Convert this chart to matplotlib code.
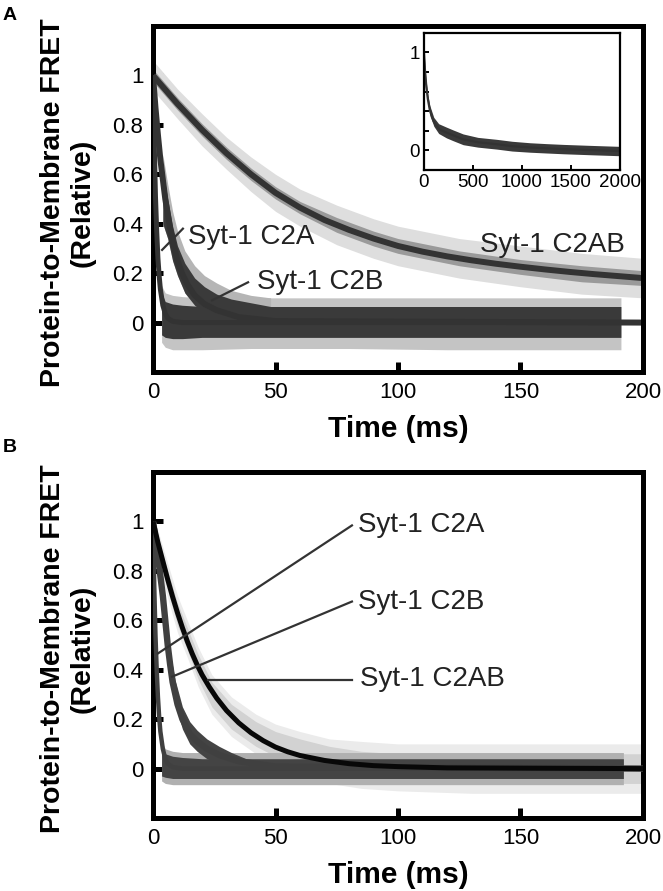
import numpy as np
import matplotlib.pyplot as plt

plt.rcParams['font.family'] = ['Liberation Sans', 'DejaVu Sans']

# ---------------- Panel A: fitted curves ----------------
a_c2a_t = [0, 0.5, 1, 1.5, 2, 2.5, 3, 4, 5, 6, 8, 12, 200]
a_c2a = [1.0, 0.72, 0.51, 0.37, 0.26, 0.19, 0.135, 0.07, 0.036, 0.018, 0.005, 0.0, 0.0]

a_c2b_t = [0, 1, 2, 3, 4, 5, 6, 7, 8, 10, 12, 14, 17, 21, 26, 35, 50, 200]
a_c2b = [1.0, 0.87, 0.76, 0.66, 0.58, 0.50, 0.44, 0.38, 0.33, 0.25, 0.195, 0.155, 0.11, 0.075, 0.05, 0.022, 0.006, 0.0]

a_c2ab_t = [0, 10, 20, 30, 40, 50, 60, 70, 80, 90, 100, 110, 120, 130, 140, 150, 160, 170, 180, 190, 200]
a_c2ab = [1.0, 0.885, 0.78, 0.685, 0.60, 0.525, 0.465, 0.415, 0.375, 0.34, 0.31, 0.287, 0.268,
          0.252, 0.238, 0.226, 0.215, 0.205, 0.196, 0.188, 0.18]

# Panel A: data clouds (envelopes of the scattered points)
a_base_t = [3.5, 5, 8, 12, 20, 40, 80, 120, 160, 191]
a_base_lo = [-0.05, -0.06, -0.065, -0.065, -0.06, -0.06, -0.06, -0.06, -0.06, -0.06]
a_base_hi = [0.12, 0.085, 0.075, 0.07, 0.065, 0.065, 0.065, 0.065, 0.065, 0.065]
a_base_flo = [-0.08, -0.1, -0.11, -0.11, -0.11, -0.105, -0.105, -0.11, -0.11, -0.11]
a_base_fhi = [0.15, 0.12, 0.11, 0.105, 0.1, 0.1, 0.1, 0.1, 0.1, 0.1]

a_c2b_cl_t = [4, 6, 8, 10, 13, 17, 21, 26, 32, 40, 48]
a_c2b_cl_hi = [0.62, 0.50, 0.39, 0.31, 0.24, 0.18, 0.145, 0.115, 0.095, 0.08, 0.065]
a_c2b_cl_lo = [0.40, 0.34, 0.25, 0.19, 0.12, 0.07, 0.04, 0.02, 0.0, -0.02, -0.02]
a_c2b_cl_fhi = [0.68, 0.56, 0.45, 0.37, 0.29, 0.23, 0.19, 0.16, 0.13, 0.11, 0.1]

a_ab_cl_t = [0, 10, 20, 30, 40, 50, 60, 75, 90, 100, 125, 150, 175, 200]
a_ab_cl_hi = [1.025, 0.91, 0.805, 0.71, 0.625, 0.55, 0.49, 0.425, 0.37, 0.34, 0.29, 0.255, 0.23, 0.21]
a_ab_cl_lo = [0.975, 0.86, 0.755, 0.66, 0.575, 0.50, 0.44, 0.365, 0.31, 0.28, 0.23, 0.195, 0.165, 0.15]
a_ab_cl_fhi = [1.06, 0.945, 0.845, 0.75, 0.67, 0.60, 0.54, 0.475, 0.42, 0.39, 0.34, 0.31, 0.28, 0.26]
a_ab_cl_flo = [0.94, 0.825, 0.715, 0.62, 0.53, 0.45, 0.39, 0.315, 0.26, 0.23, 0.18, 0.145, 0.115, 0.10]

# Inset (Syt-1 C2AB over 2 s)
in_t = [0, 10, 24, 40, 58, 80, 100, 126, 160, 229, 300, 400, 550, 742, 900, 1083, 1250, 1425, 1700, 2000]
in_v = [1.0, 0.82, 0.65, 0.52, 0.42, 0.34, 0.29, 0.25, 0.21, 0.18, 0.15, 0.11, 0.08, 0.06, 0.04, 0.027, 0.018, 0.01, 0.0, -0.01]
in_cl_t = [5, 20, 40, 60, 100, 150, 229, 300, 400, 550, 742, 900, 1083, 1250, 1425, 1700, 2000]
in_cl_hi = [0.95, 0.73, 0.565, 0.455, 0.335, 0.27, 0.235, 0.205, 0.165, 0.13, 0.11, 0.09, 0.075, 0.066, 0.058, 0.048, 0.038]
in_cl_lo = [0.87, 0.65, 0.475, 0.365, 0.245, 0.17, 0.125, 0.095, 0.055, 0.03, 0.01, -0.01, -0.022, -0.03, -0.038, -0.048, -0.058]

# ---------------- Panel B ----------------
b_c2a_t = [0, 0.5, 1, 1.5, 2, 2.5, 3, 4, 5, 6, 8, 12, 200]
b_c2a = [1.0, 0.74, 0.54, 0.40, 0.29, 0.21, 0.15, 0.08, 0.04, 0.02, 0.006, 0.0, 0.0]

b_c2b_t = [0, 1, 2, 3, 4, 5, 6, 7, 8, 10, 12, 15, 18, 22, 27, 35, 50, 200]
b_c2b = [1.0, 0.93, 0.86, 0.78, 0.70, 0.60, 0.50, 0.42, 0.35, 0.26, 0.20, 0.14, 0.11, 0.08, 0.055, 0.03, 0.008, 0.0]

b_c2ab_t = [0, 2, 4, 6, 8, 10, 12, 14, 16, 18, 20, 23, 26, 30, 35, 40, 45, 50, 55, 60, 70, 80,
            90, 100, 120, 200]
b_c2ab = [1.0, 0.915, 0.84, 0.765, 0.695, 0.63, 0.57, 0.515, 0.465, 0.42, 0.38, 0.33, 0.285,
          0.235, 0.185, 0.145, 0.113, 0.087, 0.068, 0.053, 0.033, 0.02, 0.012, 0.008, 0.003, 0.0]

b_base_t = [3.5, 5, 8, 12, 20, 40, 80, 120, 160, 192]
b_base_lo = [-0.03, -0.035, -0.04, -0.04, -0.04, -0.04, -0.04, -0.04, -0.04, -0.04]
b_base_hi = [0.09, 0.06, 0.05, 0.045, 0.04, 0.04, 0.04, 0.04, 0.04, 0.04]
b_base_flo = [-0.05, -0.06, -0.065, -0.065, -0.065, -0.065, -0.065, -0.065, -0.065, -0.065]
b_base_fhi = [0.11, 0.08, 0.07, 0.065, 0.065, 0.065, 0.065, 0.065, 0.065, 0.065]

b_c2b_cl_t = [5, 7, 9, 12, 15, 18, 22, 27, 32, 38]
b_c2b_cl_hi = [0.64, 0.47, 0.36, 0.25, 0.19, 0.155, 0.12, 0.09, 0.065, 0.04]
b_c2b_cl_lo = [0.54, 0.37, 0.26, 0.16, 0.10, 0.07, 0.04, 0.02, 0.0, 0.0]

b_ab_cl_t = [1, 3, 6, 10, 14, 18.5, 24, 32, 42, 50, 60, 72, 85, 100, 130, 160, 200]
b_ab_cl_hi = [1.0, 0.93, 0.83, 0.70, 0.60, 0.49, 0.38, 0.29, 0.22, 0.18, 0.15, 0.12, 0.11, 0.10, 0.10, 0.10, 0.10]
b_ab_cl_lo = [0.9, 0.80, 0.69, 0.55, 0.45, 0.33, 0.22, 0.13, 0.06, 0.02, -0.03, -0.06, -0.08, -0.09, -0.1, -0.1, -0.1]
b_ab_cl_mhi = [0.98, 0.90, 0.80, 0.67, 0.57, 0.46, 0.35, 0.26, 0.19, 0.15, 0.12, 0.09, 0.07, 0.06, 0.06, 0.06, 0.06]
b_ab_cl_mlo = [0.93, 0.83, 0.72, 0.58, 0.48, 0.36, 0.25, 0.16, 0.09, 0.05, 0.0, -0.03, -0.05, -0.06, -0.06, -0.06, -0.06]

yticks = [0, 0.2, 0.4, 0.6, 0.8, 1.0]
ytick_labels = ['0', '0.2', '0.4', '0.6', '0.8', '1']
xticks = [0, 50, 100, 150, 200]

GRAY = '#3a3a3a'
DARK = '#333333'


def style_main(ax):
    ax.set_xlim(0, 200)
    ax.set_ylim(-0.2, 1.2)
    ax.set_xticks(xticks)
    ax.set_yticks(yticks)
    ax.set_yticklabels(ytick_labels)
    for s in ax.spines.values():
        s.set_linewidth(3.6)
    ax.tick_params(direction='in', length=7, width=3.6, labelsize=16, pad=7,
                   top=False, right=False)
    ax.set_xlabel('Time (ms)', fontsize=21.5, fontweight='bold')
    ax.set_ylabel('Protein-to-Membrane FRET\n(Relative)', fontsize=20.5, fontweight='bold',
                  linespacing=1.15)
    ax.xaxis.set_label_coords(0.5, -0.125)
    ax.yaxis.set_label_coords(-0.118, 0.49)


def cloud(ax, t, lo, hi, color, z=2):
    ax.fill_between(t, lo, hi, color=color, lw=0, zorder=z)


fig = plt.figure(figsize=(6.63, 8.91), dpi=100)
axA = fig.add_axes([0.2308, 0.5825, 0.739, 0.3883])
axB = fig.add_axes([0.2308, 0.0819, 0.739, 0.3883])

# ---- Panel A ----
cloud(axA, a_base_t, a_base_flo, a_base_fhi, '#c4c4c4')
cloud(axA, a_c2b_cl_t, a_c2b_cl_lo, a_c2b_cl_fhi, '#b5b5b5')
cloud(axA, a_base_t, a_base_lo, a_base_hi, GRAY)
cloud(axA, a_c2b_cl_t, a_c2b_cl_lo, a_c2b_cl_hi, GRAY)
cloud(axA, a_ab_cl_t, a_ab_cl_flo, a_ab_cl_fhi, '#dedede')
cloud(axA, a_ab_cl_t, a_ab_cl_lo, a_ab_cl_hi, '#9a9a9a')
axA.plot(a_c2a_t, a_c2a, color=DARK, lw=3.6, zorder=3, solid_capstyle='butt')
axA.plot(a_c2b_t, a_c2b, color=DARK, lw=4.3, zorder=3, solid_capstyle='butt')
axA.plot(a_c2ab_t, a_c2ab, color=DARK, lw=4.3, zorder=3, solid_capstyle='butt')
style_main(axA)

ann = dict(fontsize=20, color='#222222', va='center', ha='left')
axA.text(14.3, 0.345, 'Syt-1 C2A', **ann)
axA.plot([12.2, 3.7], [0.38, 0.294], color=DARK, lw=1.6, zorder=4)
axA.text(42.4, 0.163, 'Syt-1 C2B', **ann)
axA.plot([38.8, 24.1], [0.163, 0.09], color=DARK, lw=1.6, zorder=4)
axA.text(133.5, 0.314, 'Syt-1 C2AB', **ann)

# inset
ins = axA.inset_axes([0.553, 0.585, 0.40, 0.395])
cloud(ins, in_cl_t, in_cl_lo, in_cl_hi, GRAY)
ins.plot(in_t, in_v, color=DARK, lw=1.6)
ins.set_xlim(0, 2000)
ins.set_ylim(-0.2, 1.2)
ins.set_xticks([0, 500, 1000, 1500, 2000])
ins.set_yticks(yticks)
ins.set_yticklabels(['0', '', '', '', '', '1'])
for s in ins.spines.values():
    s.set_linewidth(1.6)
ins.tick_params(direction='in', length=3.5, width=1.4, labelsize=13.5, pad=3)
axA.spines['right'].set_zorder(6)

# ---- Panel B ----
cloud(axB, b_ab_cl_t, b_ab_cl_lo, b_ab_cl_hi, '#ebebeb')
cloud(axB, b_ab_cl_t, b_ab_cl_mlo, b_ab_cl_mhi, '#d2d2d2')
cloud(axB, b_base_t, b_base_flo, b_base_fhi, '#b0b0b0')
cloud(axB, b_base_t, b_base_lo, b_base_hi, '#444444')
cloud(axB, b_c2b_cl_t, b_c2b_cl_lo, b_c2b_cl_hi, '#444444')
axB.plot(b_c2a_t, b_c2a, color='#404040', lw=3.2, zorder=3, solid_capstyle='butt')
axB.plot(b_c2b_t, b_c2b, color='#404040', lw=4.6, zorder=3, solid_capstyle='butt')
axB.plot(b_c2ab_t, b_c2ab, color='#080808', lw=3.6, zorder=3, solid_capstyle='butt')
style_main(axB)

axB.text(83.7, 0.984, 'Syt-1 C2A', **ann)
axB.plot([81.2, 2.0], [0.984, 0.466], color=DARK, lw=1.6, zorder=4)
axB.text(83.7, 0.676, 'Syt-1 C2B', **ann)
axB.plot([81.2, 7.8], [0.676, 0.372], color=DARK, lw=1.6, zorder=4)
axB.text(84.5, 0.362, 'Syt-1 C2AB', **ann)
axB.plot([81.2, 22.4], [0.36, 0.36], color=DARK, lw=1.6, zorder=4)

fig.text(0.004, 1 - 15 / 891, 'A', fontsize=14, fontweight='bold', va='center', ha='left')
fig.text(0.004, 1 - 447 / 891, 'B', fontsize=14, fontweight='bold', va='center', ha='left')

fig.savefig('out.png', dpi=100)
